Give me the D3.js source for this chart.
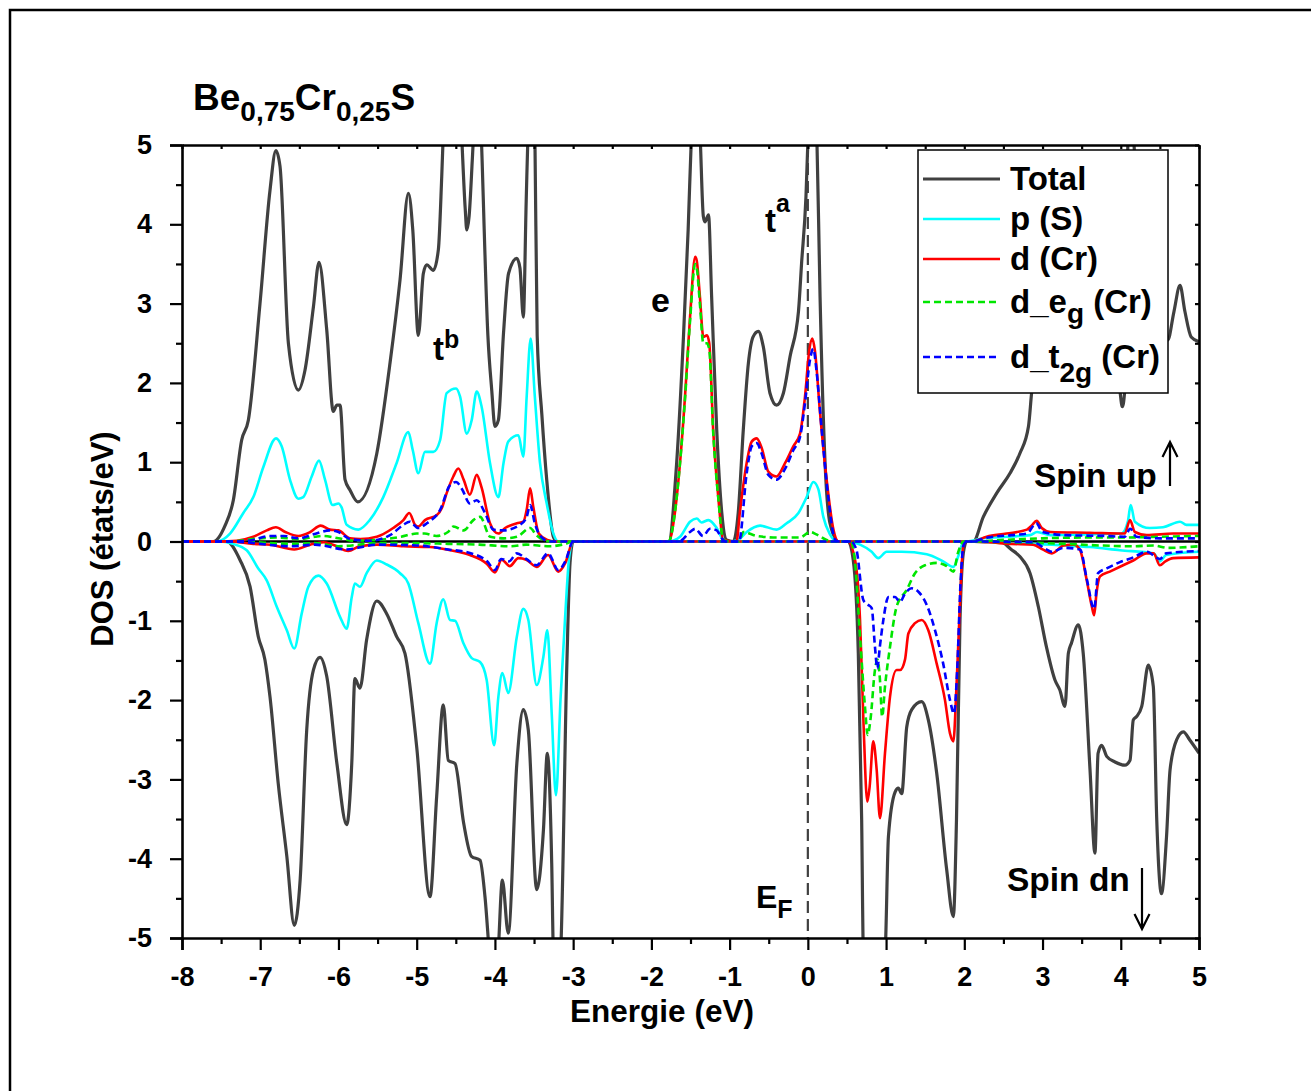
<!DOCTYPE html>
<html><head><meta charset="utf-8">
<script src="https://cdn.jsdelivr.net/npm/d3@7"></script>
<style>body{margin:0;background:#fff}</style>
</head><body>
<svg id="c" width="1311" height="1091" xmlns="http://www.w3.org/2000/svg"></svg>
<script>
const xTicks = [-8,-7,-6,-5,-4,-3,-2,-1,0,1,2,3,4,5];
const yTicks = [-5,-4,-3,-2,-1,0,1,2,3,4,5];
const seriesNames = ["Total","p (S)","d (Cr)","d_eg (Cr)","d_t2g (Cr)"];

const totalUp = [[-8,0],[-7.6,0],[-7.45,0.2],[-7.344,0.52],[-7.237,1.28],[-7.152,1.53],[-7.003,3.0],[-6.875,4.43],[-6.80,4.93],[-6.747,4.73],[-6.64,2.5],[-6.513,1.91],[-6.428,2.16],[-6.32,2.96],[-6.249,3.52],[-6.15,2.67],[-6.066,1.64],[-6.02,1.72],[-5.98,1.72],[-5.916,0.78],[-5.853,0.65],[-5.754,0.50],[-5.51,1.11],[-5.341,2.25],[-5.213,3.30],[-5.106,4.39],[-5.05,3.93],[-4.979,2.60],[-4.915,3.38],[-4.872,3.49],[-4.787,3.42],[-4.723,3.68],[-4.68,4.60],[-4.65,5.4],[-4.55,6.5],[-4.44,5.4],[-4.38,4.2],[-4.36,3.93],[-4.33,4.1],[-4.29,4.8],[-4.26,5.4],[-4.22,6.5],[-4.17,5.0],[-4.09,2.6],[-4.04,1.9],[-4.0,1.45],[-3.956,1.53],[-3.89,2.63],[-3.826,3.38],[-3.72,3.57],[-3.68,3.45],[-3.637,2.83],[-3.60,4.3],[-3.57,5.4],[-3.52,6.2],[-3.49,5.2],[-3.46,2.6],[-3.40,1.6],[-3.338,0.78],[-3.253,0.06],[-3.21,0],[-1.78,0],[-1.677,0.99],[-1.59,2.58],[-1.53,3.93],[-1.485,5.2],[-1.43,6.0],[-1.38,5.2],[-1.336,4.1],[-1.315,4.03],[-1.27,4.12],[-1.23,3.09],[-1.165,1.41],[-1.10,0.36],[-1.04,0.02],[-0.953,0],[-0.89,0.36],[-0.825,1.41],[-0.76,2.25],[-0.70,2.58],[-0.633,2.65],[-0.57,2.46],[-0.484,1.87],[-0.40,1.72],[-0.313,1.87],[-0.228,2.33],[-0.12,2.90],[-0.08,3.51],[-0.024,4.35],[0.006,5.2],[0.06,6.0],[0.113,5.2],[0.156,3.09],[0.22,0.99],[0.283,0.23],[0.39,0],[2.115,0],[2.243,0.31],[2.414,0.61],[2.584,0.86],[2.71,1.11],[2.82,1.45],[2.86,1.87],[2.95,2.6],[3.05,3.2],[3.2,3.5],[3.4,3.1],[3.6,2.9],[3.8,2.6],[3.96,2.2],[3.99,1.9],[4.02,1.70],[4.05,1.9],[4.1,5.5],[4.13,5.8],[4.17,5.0],[4.25,3.4],[4.4,2.8],[4.6,2.54],[4.68,2.9],[4.757,3.23],[4.82,2.9],[4.9,2.58],[5,2.52]];
const totalDn = [[-8,0],[-7.43,0],[-7.26,-0.23],[-7.13,-0.57],[-7.025,-1.2],[-6.94,-1.49],[-6.875,-1.96],[-6.77,-3.05],[-6.66,-3.97],[-6.565,-4.84],[-6.49,-4.27],[-6.406,-2.38],[-6.32,-1.62],[-6.236,-1.46],[-6.15,-1.70],[-6.02,-2.80],[-5.895,-3.57],[-5.83,-2.80],[-5.79,-1.73],[-5.725,-1.85],[-5.64,-1.24],[-5.51,-0.75],[-5.384,-0.91],[-5.256,-1.2],[-5.15,-1.41],[-5.0,-2.59],[-4.83,-4.48],[-4.745,-3.22],[-4.66,-2.06],[-4.596,-2.76],[-4.51,-2.80],[-4.40,-3.55],[-4.30,-3.97],[-4.19,-4.02],[-4.127,-4.48],[-4.06,-5.3],[-4.0,-5.6],[-3.96,-5.2],[-3.905,-4.27],[-3.83,-4.94],[-3.72,-2.80],[-3.637,-2.12],[-3.573,-2.38],[-3.466,-4.39],[-3.38,-3.64],[-3.33,-2.67],[-3.274,-4.06],[-3.25,-5.3],[-3.2,-5.6],[-3.16,-5.2],[-3.08,-1.53],[-3.04,-0.27],[-3.0,0],[0.517,0],[0.58,-0.23],[0.645,-1.41],[0.688,-3.51],[0.71,-5.2],[0.85,-5.8],[0.987,-5.2],[1.03,-3.72],[1.115,-3.16],[1.157,-3.11],[1.20,-3.18],[1.264,-2.34],[1.328,-2.12],[1.455,-2.02],[1.54,-2.25],[1.647,-2.92],[1.775,-4.14],[1.86,-4.73],[1.90,-3.51],[1.945,-0.99],[1.987,-0.15],[2.03,0],[2.456,0],[2.6,-0.1],[2.71,-0.19],[2.84,-0.40],[2.946,-0.82],[3.05,-1.33],[3.16,-1.75],[3.22,-1.87],[3.287,-2.08],[3.33,-1.41],[3.37,-1.28],[3.457,-1.05],[3.52,-1.41],[3.607,-2.88],[3.67,-3.93],[3.71,-2.67],[3.756,-2.57],[3.82,-2.71],[3.926,-2.78],[4.054,-2.82],[4.118,-2.76],[4.16,-2.25],[4.2,-2.21],[4.268,-2.08],[4.352,-1.56],[4.416,-1.83],[4.46,-3.51],[4.52,-4.44],[4.585,-3.72],[4.63,-2.88],[4.714,-2.50],[4.80,-2.40],[4.88,-2.50],[5.0,-2.67]];

const pUp = [[-8,0],[-7.557,0],[-7.386,0.10],[-7.216,0.36],[-7.088,0.56],[-6.96,0.94],[-6.798,1.30],[-6.726,1.20],[-6.62,0.78],[-6.513,0.54],[-6.45,0.56],[-6.342,0.82],[-6.249,1.02],[-6.172,0.78],[-6.074,0.46],[-6.0,0.48],[-5.96,0.43],[-5.895,0.21],[-5.746,0.15],[-5.6,0.27],[-5.427,0.56],[-5.256,0.99],[-5.107,1.38],[-5.05,1.15],[-4.979,0.86],[-4.894,1.13],[-4.787,1.13],[-4.70,1.28],[-4.617,1.87],[-4.497,1.93],[-4.446,1.83],[-4.36,1.36],[-4.297,1.53],[-4.233,1.89],[-4.17,1.70],[-4.063,0.99],[-3.956,0.56],[-3.89,0.99],[-3.83,1.26],[-3.70,1.34],[-3.637,1.07],[-3.594,1.83],[-3.543,2.56],[-3.49,1.83],[-3.424,0.99],[-3.338,0.48],[-3.253,0.10],[-3.19,0],[-1.78,0],[-1.634,0.06],[-1.506,0.25],[-1.42,0.29],[-1.36,0.24],[-1.27,0.27],[-1.165,0.17],[-1.08,0.02],[-1.02,0],[-0.89,0.02],[-0.782,0.12],[-0.61,0.20],[-0.40,0.15],[-0.27,0.23],[-0.12,0.36],[-0.015,0.56],[0.07,0.75],[0.134,0.66],[0.198,0.31],[0.283,0.09],[0.37,0],[2.03,0],[2.24,0.04],[2.54,0.06],[2.84,0.08],[2.93,0.12],[3.1,0.08],[3.48,0.09],[4.01,0.1],[4.09,0.25],[4.127,0.46],[4.18,0.25],[4.37,0.17],[4.54,0.18],[4.757,0.25],[4.84,0.21],[5.0,0.21]];
const pDn = [[-8,0],[-7.514,0],[-7.35,-0.03],[-7.173,-0.11],[-7.025,-0.34],[-6.917,-0.49],[-6.79,-0.82],[-6.66,-1.12],[-6.565,-1.35],[-6.47,-0.91],[-6.385,-0.57],[-6.257,-0.43],[-6.15,-0.53],[-5.98,-0.95],[-5.895,-1.10],[-5.83,-0.70],[-5.79,-0.53],[-5.725,-0.57],[-5.64,-0.40],[-5.51,-0.24],[-5.384,-0.29],[-5.213,-0.40],[-5.107,-0.53],[-4.979,-1.03],[-4.83,-1.54],[-4.745,-1.03],[-4.66,-0.73],[-4.574,-0.99],[-4.51,-1.0],[-4.404,-1.28],[-4.297,-1.47],[-4.19,-1.52],[-4.105,-1.75],[-4.01,-2.57],[-3.956,-1.96],[-3.905,-1.66],[-3.83,-1.91],[-3.72,-1.20],[-3.637,-0.85],[-3.573,-0.99],[-3.466,-1.81],[-3.38,-1.45],[-3.33,-1.12],[-3.274,-2.17],[-3.22,-3.20],[-3.16,-1.96],[-3.10,-0.91],[-3.05,-0.19],[-3.0,0],[0.51,0],[0.667,-0.04],[0.816,-0.13],[0.90,-0.21],[1.006,-0.13],[1.2,-0.13],[1.52,-0.16],[1.73,-0.25],[1.86,-0.32],[1.925,-0.18],[1.99,0],[2.3,-0.01],[2.88,-0.03],[3.3,-0.05],[3.607,-0.07],[3.99,-0.11],[4.42,-0.15],[4.50,-0.25],[4.58,-0.17],[5.0,-0.13]];

const dUp = [[-8,0],[-7.53,0],[-7.30,0.01],[-7.088,0.06],[-6.917,0.14],[-6.80,0.18],[-6.68,0.12],[-6.513,0.07],[-6.36,0.12],[-6.227,0.20],[-6.11,0.15],[-6.0,0.14],[-5.853,0.04],[-5.72,0.03],[-5.51,0.06],[-5.30,0.17],[-5.17,0.27],[-5.095,0.36],[-5.02,0.21],[-4.98,0.19],[-4.894,0.27],[-4.745,0.33],[-4.68,0.42],[-4.617,0.61],[-4.532,0.82],[-4.468,0.92],[-4.40,0.78],[-4.32,0.59],[-4.233,0.84],[-4.17,0.68],[-4.063,0.23],[-3.956,0.10],[-3.87,0.17],[-3.72,0.23],[-3.637,0.25],[-3.594,0.40],[-3.55,0.67],[-3.51,0.44],[-3.44,0.10],[-3.33,0.02],[-3.21,0],[-1.78,0],[-1.70,0.36],[-1.634,0.99],[-1.57,1.83],[-1.506,2.83],[-1.44,3.59],[-1.42,3.54],[-1.38,3.09],[-1.336,2.58],[-1.29,2.6],[-1.26,2.50],[-1.21,1.41],[-1.145,0.56],[-1.08,0.02],[-0.912,0],[-0.87,0.36],[-0.782,0.99],[-0.718,1.26],[-0.654,1.30],[-0.59,1.18],[-0.505,0.88],[-0.40,0.82],[-0.29,0.99],[-0.186,1.20],[-0.10,1.36],[-0.036,1.83],[0.018,2.41],[0.057,2.56],[0.09,2.41],[0.156,1.62],[0.24,0.78],[0.327,0.15],[0.39,0],[2.1,0],[2.285,0.06],[2.54,0.10],[2.80,0.15],[2.86,0.2],[2.925,0.26],[2.99,0.17],[3.1,0.12],[3.6,0.11],[4.05,0.10],[4.118,0.27],[4.18,0.12],[4.33,0.08],[4.67,0.10],[5.0,0.1]];
const dDn = [[-8,0],[-7.4,0],[-7.088,-0.03],[-6.87,-0.04],[-6.565,-0.10],[-6.36,-0.04],[-6.19,-0.01],[-6.07,-0.04],[-5.875,-0.12],[-5.73,-0.06],[-5.51,-0.04],[-5.17,-0.06],[-4.83,-0.07],[-4.574,-0.11],[-4.32,-0.17],[-4.105,-0.28],[-4.0,-0.39],[-3.913,-0.23],[-3.81,-0.31],[-3.70,-0.21],[-3.6,-0.23],[-3.466,-0.32],[-3.32,-0.17],[-3.19,-0.38],[-3.10,-0.27],[-3.0,0],[0.51,0],[0.603,-0.23],[0.667,-0.99],[0.71,-2.25],[0.76,-3.28],[0.79,-3.09],[0.836,-2.52],[0.88,-2.88],[0.922,-3.49],[0.986,-2.67],[1.05,-1.96],[1.135,-1.62],[1.18,-1.62],[1.242,-1.49],[1.285,-1.16],[1.37,-1.03],[1.455,-0.99],[1.54,-1.12],[1.647,-1.54],[1.753,-2.0],[1.817,-2.42],[1.86,-2.52],[1.9,-1.83],[1.945,-0.78],[1.987,-0.05],[2.03,0],[2.3,-0.01],[2.6,-0.03],[2.88,-0.04],[3.0,-0.10],[3.12,-0.15],[3.27,-0.05],[3.4,-0.04],[3.48,-0.11],[3.565,-0.49],[3.63,-0.82],[3.66,-0.93],[3.69,-0.65],[3.735,-0.44],[3.86,-0.38],[4.03,-0.30],[4.16,-0.24],[4.33,-0.15],[4.42,-0.15],[4.50,-0.30],[4.57,-0.25],[4.67,-0.21],[5.0,-0.2]];

const egUp = [[-8,0],[-7.4,0],[-7.1,0.03],[-6.8,0.05],[-6.5,0.03],[-6.3,0.06],[-6.2,0.07],[-6.0,0.04],[-5.8,0.01],[-5.5,0.02],[-5.2,0.06],[-5.0,0.1],[-4.9,0.1],[-4.75,0.07],[-4.6,0.12],[-4.53,0.19],[-4.40,0.14],[-4.276,0.27],[-4.19,0.31],[-4.06,0.06],[-3.89,0.04],[-3.72,0.06],[-3.55,0.17],[-3.47,0.08],[-3.3,0],[-1.78,0],[-1.70,0.36],[-1.634,0.99],[-1.57,1.8],[-1.506,2.78],[-1.44,3.50],[-1.42,3.45],[-1.38,3.0],[-1.336,2.5],[-1.29,2.5],[-1.26,2.42],[-1.21,1.38],[-1.145,0.55],[-1.08,0.02],[-1.0,0],[-0.88,0],[-0.825,0.12],[-0.654,0.07],[-0.4,0.05],[-0.1,0.05],[0.027,0.12],[0.11,0.09],[0.24,0.02],[0.33,0],[2.1,0],[2.5,0.02],[3.0,0.04],[3.5,0.05],[4.0,0.05],[4.5,0.06],[5.0,0.07]];
const egDn = [[-8,0],[-7.3,0],[-6.6,-0.03],[-6.3,-0.02],[-6.0,-0.06],[-5.5,-0.02],[-5.0,-0.02],[-4.6,-0.03],[-4.2,-0.04],[-3.8,-0.06],[-3.6,-0.04],[-3.3,-0.06],[-3.1,-0.03],[-3.0,0],[0.55,0],[0.6,-0.23],[0.667,-1.20],[0.73,-2.08],[0.765,-2.44],[0.80,-2.25],[0.858,-1.62],[0.89,-1.49],[0.92,-1.72],[0.95,-2.21],[0.986,-1.83],[1.05,-1.33],[1.135,-0.82],[1.264,-0.61],[1.37,-0.40],[1.497,-0.30],[1.647,-0.27],[1.775,-0.31],[1.86,-0.38],[1.92,-0.14],[1.99,0],[2.6,-0.01],[3.3,-0.03],[3.73,-0.05],[4.16,-0.06],[4.42,-0.05],[4.6,-0.08],[5.0,-0.06]];

const t2gUp = [[-8,0],[-7.3,0],[-7.09,0.02],[-6.88,0.07],[-6.7,0.07],[-6.51,0.04],[-6.32,0.09],[-6.11,0.14],[-6.0,0.12],[-5.85,0.03],[-5.6,0.01],[-5.34,0.08],[-5.17,0.21],[-5.09,0.25],[-4.98,0.17],[-4.87,0.23],[-4.70,0.40],[-4.574,0.71],[-4.497,0.75],[-4.42,0.66],[-4.32,0.48],[-4.233,0.52],[-4.127,0.36],[-4.02,0.15],[-3.89,0.14],[-3.68,0.21],[-3.594,0.31],[-3.55,0.46],[-3.49,0.23],[-3.42,0.07],[-3.3,0],[-1.65,0],[-1.506,0.12],[-1.44,0.16],[-1.34,0.07],[-1.25,0.16],[-1.165,0.14],[-1.10,0.04],[-1.05,0],[-0.88,0],[-0.782,0.86],[-0.718,1.2],[-0.654,1.24],[-0.59,1.11],[-0.505,0.84],[-0.40,0.78],[-0.29,0.92],[-0.186,1.15],[-0.10,1.32],[-0.036,1.75],[0.027,2.29],[0.07,2.43],[0.11,2.16],[0.177,1.41],[0.26,0.57],[0.35,0.02],[0.4,0],[2.1,0],[2.3,0.05],[2.6,0.08],[2.8,0.10],[2.92,0.23],[3.0,0.12],[3.3,0.08],[3.8,0.07],[4.05,0.06],[4.12,0.16],[4.2,0.06],[4.5,0.04],[5.0,0.04]];
const t2gDn = [[-8,0],[-7.4,0],[-6.6,-0.06],[-6.3,-0.04],[-5.9,-0.10],[-5.5,-0.04],[-5.0,-0.05],[-4.6,-0.10],[-4.3,-0.15],[-4.1,-0.25],[-4.0,-0.36],[-3.92,-0.22],[-3.82,-0.25],[-3.72,-0.15],[-3.6,-0.22],[-3.47,-0.30],[-3.32,-0.15],[-3.19,-0.36],[-3.1,-0.25],[-3.0,0],[0.55,0],[0.62,-0.1],[0.71,-0.74],[0.773,-0.80],[0.816,-0.84],[0.858,-1.33],[0.888,-1.60],[0.92,-1.33],[0.965,-0.99],[1.03,-0.70],[1.115,-0.70],[1.178,-0.76],[1.24,-0.66],[1.327,-0.59],[1.41,-0.63],[1.52,-0.80],[1.626,-1.12],[1.73,-1.54],[1.817,-2.0],[1.868,-2.17],[1.91,-1.60],[1.95,-0.56],[1.99,-0.05],[2.03,0],[2.88,-0.01],[3.05,-0.1],[3.12,-0.13],[3.27,-0.08],[3.48,-0.10],[3.565,-0.47],[3.66,-0.85],[3.71,-0.4],[3.82,-0.34],[3.99,-0.26],[4.16,-0.20],[4.33,-0.13],[4.5,-0.22],[4.58,-0.15],[5.0,-0.12]];

// ---------- drawing ----------
const FONT = "'Liberation Sans', Arial, Helvetica, sans-serif";
const W = 1311, H = 1091;
const M = {left:182, right:1199, top:145, bottom:938};
const svg = d3.select("#c");
svg.append("rect").attr("width",W).attr("height",H).attr("fill","#fff");
svg.append("rect").attr("x",10).attr("y",10).attr("width",W).attr("height",H)
  .attr("fill","none").attr("stroke","#000").attr("stroke-width",2.5);

const x = d3.scaleLinear().domain([xTicks[0], xTicks[xTicks.length-1]]).range([M.left, M.right]);
const y = d3.scaleLinear().domain([yTicks[0], yTicks[yTicks.length-1]]).range([M.bottom, M.top]);

svg.append("defs").append("clipPath").attr("id","clip").append("rect")
  .attr("x",M.left).attr("y",M.top).attr("width",M.right-M.left).attr("height",M.bottom-M.top);

const plot = svg.append("g").attr("clip-path","url(#clip)");
// zero line
plot.append("line").attr("x1",x(-8)).attr("x2",x(5)).attr("y1",y(0)).attr("y2",y(0))
  .attr("stroke","#000").attr("stroke-width",2.5);
// Fermi level
plot.append("line").attr("x1",x(0)).attr("x2",x(0)).attr("y1",y(5)).attr("y2",y(-5))
  .attr("stroke","#404040").attr("stroke-width",2.2).attr("stroke-dasharray","12,6");

const styles = [
  {color:"#404040", w:3.2, dash:null},
  {color:"#00ffff", w:2.6, dash:null},
  {color:"#ff0000", w:2.6, dash:null},
  {color:"#00e600", w:2.6, dash:"7,4"},
  {color:"#0000ff", w:2.6, dash:"7,4"}
];
const data = [[totalUp,totalDn],[pUp,pDn],[dUp,dDn],[egUp,egDn],[t2gUp,t2gDn]];
const line = d3.line().x(d=>x(d[0])).y(d=>y(d[1])).curve(d3.curveMonotoneX);
data.forEach((pair,i)=>{
  pair.forEach(arr=>{
    plot.append("path").attr("d",line(arr)).attr("fill","none")
      .attr("stroke",styles[i].color).attr("stroke-width",styles[i].w)
      .attr("stroke-linejoin","round")
      .attr("stroke-dasharray",styles[i].dash);
  });
});

// axes
const minorX = d3.range(-7.5, 5, 1);
const minorY = d3.range(-4.5, 5, 1);
function styleAxis(g){
  g.selectAll("path.domain").attr("stroke","#000").attr("stroke-width",2.6);
  g.selectAll(".tick line").attr("stroke","#000").attr("stroke-width",2.2);
  g.selectAll(".tick text").attr("fill","#000").attr("font-family",FONT)
    .attr("font-weight","bold").attr("font-size",27);
}
const fmt = d => String(d);
svg.append("g").attr("transform",`translate(0,${M.bottom})`)
  .call(d3.axisBottom(x).tickValues(xTicks).tickSize(12).tickPadding(17).tickFormat(fmt)).call(styleAxis);
svg.append("g").attr("transform",`translate(0,${M.bottom})`)
  .call(d3.axisBottom(x).tickValues(minorX).tickSize(6).tickFormat("")).call(styleAxis)
  .call(g=>g.select(".domain").remove());
svg.append("g").attr("transform",`translate(${M.left},0)`)
  .call(d3.axisLeft(y).tickValues(yTicks).tickSize(12).tickPadding(18).tickFormat(fmt)).call(styleAxis);
svg.append("g").attr("transform",`translate(${M.left},0)`)
  .call(d3.axisLeft(y).tickValues(minorY).tickSize(6).tickFormat("")).call(styleAxis)
  .call(g=>g.select(".domain").remove());
// top and right (inner ticks)
svg.append("g").attr("transform",`translate(0,${M.top})`)
  .call(d3.axisTop(x).tickValues(xTicks.concat(minorX)).tickSizeInner(-4).tickSizeOuter(0).tickFormat("")).call(styleAxis);
svg.append("g").attr("transform",`translate(${M.right},0)`)
  .call(d3.axisRight(y).tickValues(yTicks.concat(minorY)).tickSizeInner(-4).tickSizeOuter(0).tickFormat("")).call(styleAxis);

// axis titles
svg.append("text").attr("x",662).attr("y",1022).attr("text-anchor","middle")
  .attr("font-family",FONT).attr("font-weight","bold").attr("font-size",31.5).text("Energie (eV)");
svg.append("text").attr("transform",`translate(113,539) rotate(-90)`)
  .attr("text-anchor","middle").attr("font-family",FONT).attr("font-weight","bold").attr("font-size",31)
  .text("DOS (états/eV)");

// helper for text with sub/superscript
function rich(xp, yp, parts, size){
  const t = svg.append("text").attr("x",xp).attr("y",yp).attr("font-family",FONT)
    .attr("font-weight","bold").attr("font-size",size).attr("fill","#000");
  parts.forEach(p=>{
    const s = t.append("tspan").text(p.t);
    if(p.s){ s.attr("font-size",p.s); }
    if(p.dy){ s.attr("dy",p.dy); }
  });
  return t;
}
// title
rich(193,110,[{t:"Be"},{t:"0,75",s:28,dy:11},{t:"Cr",dy:-11},{t:"0,25",s:28,dy:11},{t:"S",dy:-11}],37);
// annotations
rich(433,360,[{t:"t"},{t:"b",s:25,dy:-12}],33);
rich(651,312,[{t:"e"}],34);
rich(765,232,[{t:"t"},{t:"a",s:25,dy:-20}],33);
rich(756,908,[{t:"E"},{t:"F",s:25,dy:10}],32);
rich(1034,487,[{t:"Spin up"}],33.5);
rich(1007,891,[{t:"Spin dn"}],33.5);
// arrows
svg.append("path").attr("d","M1170,486 L1170,442 M1162.5,457 L1170,442 L1177.5,457")
  .attr("fill","none").attr("stroke","#000").attr("stroke-width",2.2);
svg.append("path").attr("d","M1142,868 L1142,929 M1134.5,914 L1142,929 L1149.5,914")
  .attr("fill","none").attr("stroke","#000").attr("stroke-width",2.2);

// legend
const lg = svg.append("g");
lg.append("rect").attr("x",918).attr("y",150).attr("width",250).attr("height",243)
  .attr("fill","#fff").attr("stroke","#000").attr("stroke-width",1.5);
const legY = [179,219,259,302,357];
const legendParts = [
  [{t:"Total"}],
  [{t:"p (S)"}],
  [{t:"d (Cr)"}],
  [{t:"d_e"},{t:"g",s:28,dy:10},{t:" (Cr)",dy:-10}],
  [{t:"d_t"},{t:"2g",s:28,dy:14},{t:" (Cr)",dy:-14}]
];
seriesNames.forEach((n,i)=>{
  lg.append("line").attr("x1",923).attr("x2",1000).attr("y1",legY[i]).attr("y2",legY[i])
    .attr("stroke",styles[i].color).attr("stroke-width",styles[i].w).attr("stroke-dasharray",styles[i].dash);
  const t = lg.append("text").attr("x",1010).attr("y",legY[i]+11).attr("font-family",FONT)
    .attr("font-weight","bold").attr("font-size",33).attr("fill","#000");
  legendParts[i].forEach(p=>{
    const s = t.append("tspan").text(p.t);
    if(p.s) s.attr("font-size",p.s);
    if(p.dy) s.attr("dy",p.dy);
  });
});
</script>
</body></html>
